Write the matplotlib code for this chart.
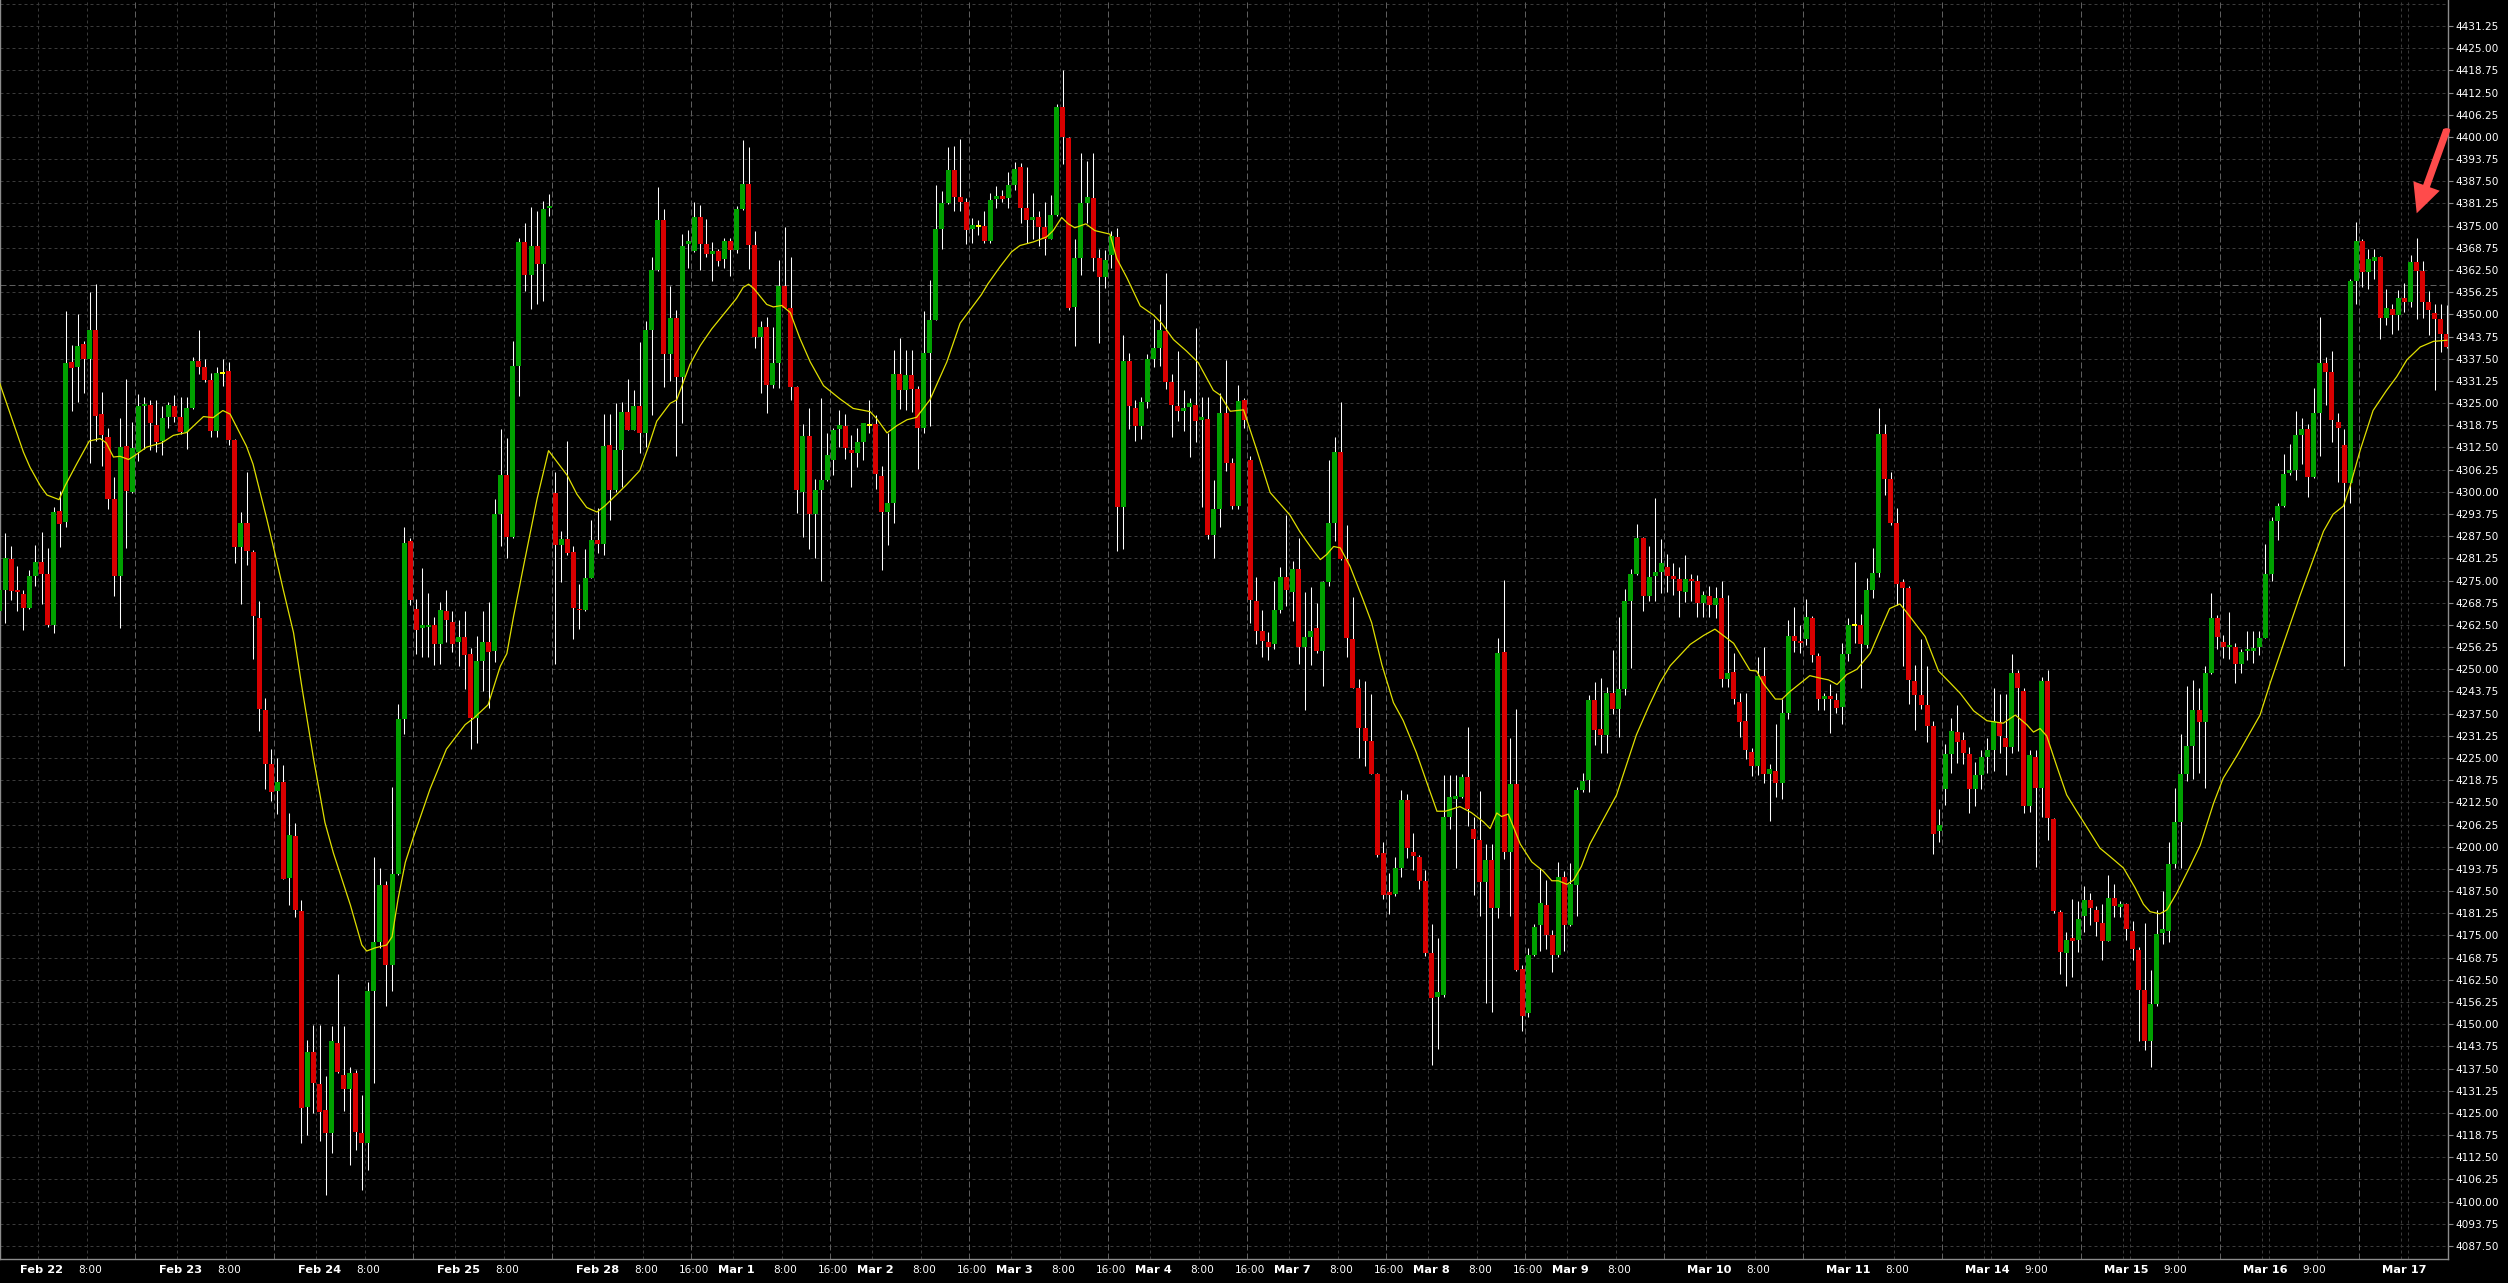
import matplotlib
matplotlib.use("Agg")
import matplotlib.pyplot as plt
import numpy as np
from matplotlib.patches import Polygon, Circle
import matplotlib.transforms as mtransforms

# ---------------- data (hourly OHLC) ----------------
opens = [4266.3,4272.4,4281.0,4272.2,4271.2,4267.2,4276.4,4280.1,4276.9,4262.4,4294.6,4291.4,4336.6,4335.3,4341.7,4337.4,4345.5,4321.9,4315.5,4297.9,4276.2,4312.9,4300.0,
4311.2,4324.1,4324.6,4318.9,4314.3,4321.0,4324.3,4321.2,4316.9,4323.6,4336.9,4335.3,4331.6,4317.1,4333.5,4334.0,4314.6,4284.5,4291.2,4282.9,4264.4,4238.6,4223.2,
4215.8,4218.2,4191.3,4202.9,4181.8,4126.6,4142.1,4133.2,4125.8,4119.2,4144.7,4135.8,4131.8,4136.1,4119.4,4116.6,4159.4,4173.2,4189.2,4166.8,4192.2,4236.0,4286.0,
4266.9,4261.7,4261.9,4262.6,4257.2,4266.4,4263.4,4257.6,4259.1,4254.3,4236.2,4252.2,4257.6,4255.2,4293.7,4304.6,4287.4,4335.5,4370.3,4361.2,4369.4,4364.2,4379.9,
4299.7,4285.0,4286.7,4283.0,4267.1,4266.6,4275.8,4286.4,4285.4,4313.3,4300.4,4311.8,4322.6,4317.5,4324.3,4316.6,4345.6,4362.5,4376.7,4338.9,4348.9,4332.3,4369.8,
4367.8,4377.4,4369.8,4367.1,4367.8,4365.6,4370.7,4368.2,4379.6,4386.8,4369.5,4343.6,4346.3,4330.2,4336.3,4358.1,4351.9,4329.6,4300.0,4315.8,4293.7,4300.4,4303.3,
4309.0,4317.6,4318.5,4311.8,4310.8,4313.9,4318.9,4319.1,4304.4,4294.4,4296.9,4333.2,4328.6,4332.8,4329.0,4317.9,4339.2,4348.5,4374.1,4381.4,4390.8,4383.1,4381.8,
4374.1,4374.9,4374.9,4370.7,4382.4,4383.4,4382.8,4386.5,4391.4,4380.1,4376.6,4377.3,4374.6,4371.3,4378.0,4408.5,4399.7,4352.0,4365.8,4381.3,4382.8,4365.8,4360.6,
4366.7,4371.8,4295.8,4336.8,4323.6,4318.5,4325.4,4337.4,4340.5,4345.2,4330.9,4324.2,4322.7,4324.0,4324.5,4320.1,4320.5,4287.9,4295.2,4322.3,4308.0,4295.9,4325.8,
4308.9,4269.2,4260.9,4257.6,4257.1,4266.8,4275.9,4271.9,4278.3,4256.3,4259.1,4261.7,4255.2,4274.7,4291.2,4311.3,4281.1,4258.5,4244.8,4233.4,4229.8,4220.6,4198.1,
4187.1,4186.7,4193.9,4213.1,4198.4,4197.2,4190.4,4170.0,4157.7,4158.1,4208.5,4213.5,4214.0,4219.5,4205.0,4201.9,4190.0,4196.3,4182.8,4255.0,4198.5,4217.7,4165.4,
4153.1,4169.5,4177.8,4183.7,4175.1,4169.6,4191.6,4177.8,4189.2,4216.0,4218.9,4241.2,4233.1,4231.5,4243.2,4238.7,4244.5,4269.2,4276.8,4287.1,4270.7,4276.4,4277.4,
4278.9,4276.4,4275.3,4271.7,4275.5,4274.9,4268.6,4270.7,4268.0,4270.2,4247.2,4249.1,4240.9,4235.3,4226.8,4222.6,4248.1,4220.6,4221.4,4217.9,4237.8,4259.5,4258.0,
4258.5,4264.5,4253.8,4241.6,4242.4,4241.4,4239.3,4254.4,4262.4,4262.6,4256.7,4272.4,4277.2,4316.4,4303.6,4291.2,4274.6,4273.0,4246.7,4242.7,4239.9,4234.0,4204.5,
4216.2,4226.1,4232.4,4230.1,4226.0,4216.2,4220.1,4225.4,4227.2,4235.2,4230.7,4228.0,4248.9,4243.9,4211.4,4225.4,4216.5,4246.7,4207.8,4181.7,4170.0,4174.3,4173.8,
4180.6,4184.9,4182.2,4178.6,4173.5,4185.5,4183.0,4183.8,4176.3,4171.0,4159.6,4145.3,4155.8,4175.7,4176.3,4195.2,4207.0,4220.6,4228.5,4238.6,4235.2,4248.9,4264.4,
4257.6,4256.2,4256.2,4251.4,4255.1,4255.2,4256.2,4258.9,4276.7,4291.8,4296.0,4305.4,4306.1,4316.1,4317.7,4304.3,4322.1,4336.4,4333.7,4319.8,4313.1,4302.4,4359.3,
4370.8,4362.0,4365.1,4366.1,4349.0,4351.4,4349.8,4354.5,4353.4,4364.8,4362.1,4353.4,4350.3,4348.7,4344.6]

highs = [4274.0,4288.4,4284.6,4279.1,4272.4,4278.1,4285.0,4288.8,4284.1,4295.7,4300.3,4350.9,4341.4,4350.0,4342.6,4356.4,4358.6,4328.1,4318.1,4304.3,4320.7,4331.9,4319.8,
4327.6,4326.7,4325.9,4325.9,4324.1,4325.3,4327.2,4326.7,4326.7,4337.9,4345.7,4337.4,4333.6,4335.3,4337.4,4336.6,4315.0,4294.3,4305.5,4283.6,4269.3,4241.8,4227.5,
4224.9,4222.9,4209.4,4206.8,4184.9,4145.6,4149.9,4149.9,4135.3,4149.4,4164.1,4149.4,4137.8,4137.0,4130.1,4162.0,4197.0,4193.9,4190.4,4216.7,4240.1,4290.2,4287.1,
4269.8,4278.4,4271.5,4264.6,4268.9,4272.4,4266.4,4263.8,4266.4,4256.0,4259.5,4266.4,4268.9,4298.0,4317.7,4315.3,4342.5,4371.4,4375.8,4380.2,4379.1,4382.0,4384.0,
4305.7,4288.9,4314.2,4284.7,4274.1,4284.0,4292.0,4295.3,4321.9,4321.9,4325.0,4325.3,4331.9,4328.6,4342.1,4348.1,4366.1,4385.8,4379.8,4358.1,4351.2,4372.7,4373.8,
4381.8,4380.7,4376.9,4370.5,4368.5,4371.4,4371.4,4380.4,4399.1,4397.1,4373.4,4348.1,4349.2,4346.5,4365.2,4374.7,4366.1,4329.9,4319.0,4323.5,4303.6,4326.5,4316.6,
4318.0,4323.0,4321.9,4316.0,4318.0,4319.5,4325.9,4321.7,4307.3,4316.6,4339.9,4343.2,4339.9,4339.9,4329.9,4350.9,4359.8,4386.4,4384.7,4397.1,4397.5,4399.3,4382.8,
4377.1,4376.5,4379.1,4384.1,4386.3,4385.0,4390.1,4392.9,4392.7,4391.4,4384.1,4379.1,4381.7,4383.7,4409.2,4418.9,4400.0,4371.3,4395.6,4393.3,4395.6,4368.5,4368.2,
4373.6,4374.4,4344.1,4339.2,4326.0,4326.7,4338.8,4348.7,4352.9,4361.6,4333.3,4339.7,4328.6,4326.4,4346.2,4326.7,4326.7,4303.4,4327.8,4337.0,4309.5,4330.0,4326.5,
4310.2,4275.9,4266.8,4260.4,4275.0,4278.7,4293.4,4280.5,4286.9,4271.7,4273.2,4268.6,4275.0,4308.9,4315.4,4325.4,4290.6,4270.5,4247.2,4246.6,4243.0,4220.8,4201.4,
4192.6,4197.2,4216.0,4214.9,4203.9,4197.7,4193.5,4178.3,4174.2,4220.1,4220.1,4220.1,4220.4,4233.8,4208.5,4215.8,4200.7,4200.7,4258.8,4275.1,4230.6,4238.8,4166.7,
4171.5,4178.3,4194.1,4190.6,4176.5,4195.6,4193.1,4195.4,4216.8,4220.8,4242.8,4246.3,4247.5,4245.0,4255.4,4264.8,4272.6,4278.3,4290.9,4287.3,4284.7,4298.2,4286.8,
4282.4,4279.9,4278.7,4282.1,4276.8,4276.5,4272.0,4273.4,4273.3,4274.9,4270.9,4254.5,4243.4,4243.4,4227.7,4253.5,4256.3,4223.3,4234.6,4241.6,4263.8,4267.6,4262.6,
4269.9,4265.1,4254.5,4243.4,4245.9,4243.4,4257.5,4264.5,4280.2,4265.5,4275.8,4284.3,4323.5,4319.2,4305.7,4295.3,4275.5,4273.4,4251.2,4258.5,4251.0,4235.3,4210.5,
4229.0,4236.2,4239.9,4232.3,4228.0,4223.8,4227.2,4230.7,4244.6,4243.1,4243.1,4254.4,4249.7,4244.6,4227.2,4227.2,4247.8,4249.7,4208.0,4182.2,4175.9,4185.3,4184.6,
4189.0,4186.9,4183.3,4183.8,4192.0,4189.6,4184.6,4184.2,4179.0,4171.6,4178.6,4165.3,4182.2,4187.4,4201.2,4216.5,4231.7,4245.4,4247.0,4244.6,4250.9,4271.5,4265.2,
4259.7,4266.0,4257.3,4255.7,4260.8,4260.8,4260.8,4285.4,4292.9,4296.8,4310.7,4313.4,4322.9,4320.9,4319.0,4329.2,4349.3,4337.9,4339.8,4322.1,4317.7,4360.1,4375.9,
4371.2,4368.3,4368.3,4366.4,4357.2,4353.0,4356.9,4358.8,4366.7,4371.5,4365.1,4356.6,4353.0,4353.0,4352.6]

lows = [4263.5,4262.9,4269.5,4266.4,4261.2,4267.0,4273.6,4268.4,4262.0,4260.1,4284.5,4290.2,4322.9,4325.4,4327.9,4308.1,4314.3,4307.4,4295.2,4270.7,4261.5,4284.1,4299.8,
4308.6,4312.1,4311.7,4311.2,4310.3,4318.1,4319.8,4316.4,4312.1,4323.4,4333.1,4331.0,4315.5,4315.5,4329.8,4313.3,4279.8,4268.4,4279.3,4252.9,4232.7,4216.3,4212.9,
4209.1,4190.8,4183.6,4180.1,4116.6,4118.9,4124.9,4117.1,4101.9,4113.7,4136.1,4125.4,4110.2,4114.6,4103.3,4109.0,4133.5,4171.5,4155.1,4159.4,4191.9,4231.8,4268.1,
4254.3,4253.4,4253.4,4251.2,4251.5,4257.7,4255.0,4250.8,4244.3,4227.5,4229.3,4243.9,4239.1,4252.1,4284.7,4281.4,4287.0,4327.0,4356.5,4351.4,4352.9,4353.8,4377.8,
4251.4,4274.7,4282.3,4258.4,4261.4,4266.4,4275.6,4282.7,4282.3,4292.0,4300.0,4301.3,4317.3,4317.3,4311.0,4312.6,4321.7,4362.3,4329.6,4331.2,4310.0,4319.3,4363.2,
4367.5,4362.5,4366.1,4359.4,4363.6,4363.2,4360.9,4367.4,4379.4,4362.9,4340.5,4327.9,4322.2,4329.2,4329.2,4351.7,4325.9,4294.0,4287.4,4284.0,4281.4,4275.0,4303.0,
4304.6,4312.6,4309.3,4301.3,4307.0,4308.9,4316.6,4300.9,4278.0,4285.1,4291.1,4323.3,4323.0,4322.6,4306.5,4316.6,4318.6,4348.3,4368.5,4381.2,4379.1,4379.1,4369.8,
4370.1,4372.5,4370.0,4370.0,4379.9,4381.7,4379.9,4385.0,4375.8,4370.0,4371.3,4369.4,4366.7,4371.1,4377.8,4392.3,4351.1,4341.0,4361.2,4375.8,4362.1,4341.9,4357.5,
4363.0,4283.3,4283.8,4317.6,4314.4,4315.0,4323.6,4335.2,4335.5,4329.1,4315.4,4319.9,4317.2,4309.9,4313.9,4295.6,4286.6,4281.4,4290.1,4305.8,4295.2,4295.2,4318.1,
4263.1,4257.1,4253.4,4252.7,4255.8,4265.9,4267.7,4263.7,4251.6,4238.4,4251.2,4254.5,4245.3,4273.6,4286.0,4280.9,4253.4,4244.6,4225.0,4222.8,4220.4,4197.2,4185.2,
4181.0,4186.2,4191.6,4196.8,4193.5,4188.0,4169.1,4138.5,4143.1,4157.7,4204.9,4193.9,4213.6,4205.8,4186.4,4180.6,4156.0,4153.5,4179.9,4196.6,4180.6,4165.0,4148.1,
4151.9,4169.2,4170.5,4171.1,4164.8,4168.9,4170.5,4177.6,4180.6,4215.5,4215.5,4228.6,4226.5,4226.5,4237.4,4230.9,4242.8,4250.4,4276.6,4266.3,4269.2,4269.2,4271.4,
4271.7,4270.9,4264.8,4268.9,4269.2,4264.8,4264.8,4264.8,4264.5,4244.9,4244.9,4240.3,4230.9,4224.6,4219.9,4220.2,4218.0,4207.2,4213.9,4213.5,4235.9,4254.8,4254.5,
4256.7,4252.0,4238.4,4238.4,4231.9,4237.8,4234.6,4252.3,4257.3,4244.7,4256.0,4270.2,4275.9,4299.0,4290.6,4268.2,4251.0,4240.3,4232.8,4238.7,4229.4,4197.9,4201.3,
4211.8,4220.8,4223.6,4223.3,4209.5,4211.4,4216.2,4220.9,4221.2,4226.5,4220.1,4226.5,4226.9,4209.5,4209.9,4194.4,4208.3,4202.0,4181.4,4164.0,4160.8,4163.2,4170.3,
4175.9,4177.9,4174.8,4168.0,4173.3,4180.1,4180.1,4173.8,4168.0,4145.3,4142.6,4137.9,4155.0,4172.7,4173.2,4194.0,4194.0,4218.5,4219.0,4220.9,4216.5,4248.7,4255.7,
4253.3,4252.9,4246.2,4249.0,4252.5,4251.8,4254.1,4258.7,4275.0,4286.5,4295.8,4304.7,4303.2,4307.9,4298.4,4303.9,4310.2,4324.5,4313.9,4302.8,4251.0,4296.8,4352.9,
4357.7,4357.2,4360.1,4343.0,4347.1,4344.6,4345.5,4350.6,4352.2,4348.7,4349.0,4344.3,4328.8,4339.5,4340.6]

closes = [4272.4,4281.3,4272.0,4271.7,4267.2,4276.4,4280.1,4276.7,4262.4,4294.3,4291.0,4336.2,4334.8,4341.2,4337.4,4345.5,4321.5,4315.9,4297.9,4276.4,4312.6,4300.3,4312.4,
4324.3,4324.8,4319.5,4314.1,4320.7,4324.5,4321.2,4316.9,4323.6,4336.9,4335.3,4331.6,4317.1,4333.5,4333.5,4314.6,4284.5,4291.2,4283.3,4264.9,4238.7,4223.2,4215.5,
4218.1,4191.0,4203.4,4182.3,4126.3,4142.1,4133.5,4125.2,4119.2,4145.2,4136.5,4131.8,4136.1,4119.7,4116.6,4159.4,4173.2,4189.2,4166.8,4192.2,4236.0,4285.7,4269.5,
4261.2,4262.6,4262.6,4257.2,4266.7,4263.8,4257.2,4259.1,4253.9,4236.2,4252.2,4257.6,4254.8,4293.7,4304.6,4287.4,4335.5,4370.3,4361.2,4369.4,4364.2,4379.8,4380.4,
4285.0,4286.7,4282.7,4267.4,4266.6,4275.8,4286.4,4285.4,4312.9,4300.4,4311.8,4322.6,4317.5,4324.3,4316.6,4345.6,4362.5,4376.7,4338.9,4348.9,4332.3,4369.4,4370.6,
4377.4,4369.8,4366.9,4367.8,4365.1,4370.7,4368.2,4379.6,4386.8,4369.5,4343.6,4346.3,4330.2,4336.3,4358.1,4351.9,4329.6,4300.4,4315.8,4293.7,4300.4,4303.3,4310.4,
4317.4,4318.9,4312.4,4311.0,4313.9,4319.3,4318.9,4304.9,4294.4,4296.9,4333.2,4328.8,4332.8,4329.0,4317.9,4339.2,4348.5,4374.1,4381.4,4390.8,4383.1,4381.8,4373.8,
4375.1,4374.9,4370.7,4382.3,4383.4,4382.6,4386.5,4391.1,4380.1,4376.6,4377.3,4374.6,4371.3,4378.0,4408.5,4400.0,4351.7,4365.8,4381.3,4383.0,4365.8,4360.6,4365.4,
4372.2,4295.8,4336.8,4324.2,4318.5,4325.4,4337.4,4340.5,4345.6,4330.9,4324.5,4322.7,4323.6,4325.1,4319.9,4321.0,4287.9,4295.2,4322.1,4308.0,4295.9,4325.6,4320.3,
4269.5,4260.9,4258.0,4256.2,4266.8,4275.9,4272.3,4278.3,4256.3,4259.1,4260.9,4255.2,4274.7,4291.2,4311.1,4281.1,4258.9,4244.8,4233.4,4229.8,4220.6,4197.7,4186.5,
4186.3,4193.9,4213.1,4199.5,4197.3,4190.4,4170.0,4157.4,4159.0,4208.5,4214.0,4214.2,4219.5,4210.5,4202.2,4190.0,4196.3,4182.8,4254.5,4198.5,4217.7,4165.2,4152.2,
4169.5,4177.4,4184.1,4175.1,4169.6,4191.6,4177.8,4189.4,4216.0,4218.5,4241.4,4233.0,4231.5,4243.2,4238.7,4244.5,4269.1,4276.8,4287.1,4270.7,4276.0,4277.4,4279.9,
4276.4,4275.5,4272.0,4275.3,4274.9,4268.6,4270.9,4268.0,4270.1,4247.2,4249.0,4241.6,4235.0,4227.3,4222.6,4248.1,4220.4,4221.8,4217.9,4237.8,4259.5,4257.9,4257.5,
4264.6,4253.9,4241.6,4242.4,4241.6,4239.0,4254.4,4262.6,4262.4,4257.0,4272.4,4277.2,4316.4,4303.6,4291.2,4274.0,4273.0,4247.0,4242.8,4239.9,4234.0,4203.6,4206.0,
4226.1,4232.5,4229.6,4226.5,4216.2,4220.1,4225.4,4227.2,4235.5,4231.2,4228.0,4248.9,4244.6,4211.4,4225.7,4216.5,4246.7,4208.0,4181.9,4170.3,4173.8,4173.5,4179.5,
4184.9,4182.7,4178.7,4173.5,4185.5,4183.3,4183.8,4176.7,4171.1,4159.6,4145.3,4155.8,4175.4,4176.7,4195.2,4207.0,4220.6,4228.5,4238.6,4235.2,4248.9,4264.4,4259.2,
4256.2,4256.8,4251.4,4254.9,4255.7,4256.0,4258.9,4276.7,4291.8,4296.0,4305.0,4306.1,4316.1,4317.7,4304.3,4322.1,4336.4,4333.7,4320.1,4317.9,4302.4,4359.3,4370.8,
4362.0,4365.6,4366.1,4349.0,4351.9,4349.8,4354.5,4353.4,4364.8,4362.1,4353.4,4351.1,4348.7,4344.6,4340.8]

# moving average line, read at sample bars
ma_bar = [0.1,4.0,5.1,6.8,7.9,9.9,10.9,12.8,14.9,16.7,17.7,18.9,20.0,21.4,22.5,24.4,26.9,28.8,31.0,33.8,35.4,37.0,38.2,40.9,42.0,44.3,45.6,47.0,48.7,50.1,
          52.0,53.9,55.3,58.1,60.0,60.8,62.2,64.1,65.0,66.0,67.2,68.5,71.3,74.0,77.1,78.5,80.9,82.9,84.0,85.1,86.8,89.0,90.9,94.0,95.6,97.2,98.9,100.2,
          102.2,103.8,106.0,107.4,108.8,111.0,112.1,114.3,116.0,117.9,119.8,122.0,123.1,124.0,124.9,127.0,128.1,129.5,130.9,132.5,134.2,136.4,139.1,141.3,
          144.1,145.2,146.9,148.5,150.2,151.8,154.0,156.8,159.0,161.2,162.5,163.6,165.6,167.5,168.9,171.1,173.3,174.4,175.8,176.9,178.0,179.8,181.3,183.8,
          184.9,186.6,188.8,191.0,192.4,194.3,196.5,198.4,200.9,202.0,203.7,205.9,208.1,210.3,213.6,215.2,217.5,218.6,219.7,220.8,221.9,223.5,225.7,227.1,
          228.8,230.7,232.3,234.5,236.2,237.9,239.3,241.7,243.6,245.6,246.7,247.8,248.6,249.7,251.7,253.6,255.5,256.9,258.0,259.4,260.5,261.8,263.2,265.4,
          267.6,269.3,270.9,273.0,274.8,276.5,279.8,282.0,283.9,285.3,287.0,289.7,290.8,291.9,293.9,295.0,296.3,298.0,299.6,301.3,302.7,304.1,305.7,307.4,
          309.6,311.0,312.8,314.5,315.6,318.7,320.9,322.8,324.5,326.7,328.9,331.6,333.6,335.5,336.6,337.7,338.8,340.5,342.1,343.8,345.7,347.6,349.3,351.5,
          353.4,354.8,355.9,357.5,358.7,360.3,362.5,364.2,366.4,368.0,370.3,372.4,374.1,375.8,378.0,380.7,382.9,384.6,386.2,387.9,389.0,390.7,392.8,395.0,
          396.7,398.4,400.6,402.8,405.0]
ma_val = [4330.5,4311.2,4306.9,4301.7,4299.1,4297.8,4301.7,4307.8,4314.3,4315.0,4313.8,4309.8,4310.0,4309.1,4310.3,4312.6,4313.8,4315.9,4316.7,4321.2,4320.9,4322.9,4321.9,4312.9,4307.8,4292.2,4282.8,4272.4,4260.3,4244.8,
          4224.9,4206.8,4198.2,4183.6,4172.3,4170.6,4171.5,4172.3,4174.6,4185.3,4195.6,4202.5,4216.3,4227.5,4234.4,4236.2,4240.0,4250.8,4254.4,4264.8,4279.4,4298.0,4311.6,4304.6,4299.3,4295.6,4294.3,4296.0,
          4299.3,4302.0,4306.0,4312.6,4319.9,4324.9,4325.9,4335.9,4341.2,4345.9,4349.9,4354.5,4357.6,4358.5,4357.2,4352.8,4352.1,4352.5,4350.5,4343.2,4336.6,4329.9,4326.2,4323.5,
          4322.6,4320.6,4316.6,4318.6,4320.3,4321.0,4325.9,4336.6,4347.5,4352.5,4355.5,4358.6,4363.4,4367.6,4369.4,4370.4,4371.8,4373.6,4377.3,4375.5,4374.4,4375.5,4373.6,4372.6,
          4365.8,4360.3,4352.4,4349.8,4347.4,4342.9,4339.6,4336.4,4328.6,4327.3,4322.7,4323.1,4311.7,4299.8,4293.4,4288.8,4283.3,4280.9,4282.4,4284.6,4284.2,4279.1,4269.5,4263.1,
          4251.2,4240.6,4235.6,4226.5,4218.2,4210.0,4210.0,4211.3,4209.6,4207.0,4205.1,4209.5,4208.5,4209.2,4200.7,4195.7,4193.1,4190.4,4190.4,4189.4,4190.6,4194.4,4200.7,4207.6,
          4214.5,4223.3,4231.5,4239.7,4246.2,4251.0,4257.0,4259.5,4261.3,4259.5,4257.3,4249.7,4249.5,4246.0,4241.6,4241.6,4243.7,4246.0,4248.2,4247.5,4247.0,4245.7,4248.5,4250.0,
          4254.5,4260.1,4267.1,4268.4,4266.1,4259.2,4249.5,4246.2,4243.2,4238.3,4235.5,4234.8,4237.1,4234.4,4232.3,4233.3,4231.2,4222.5,4214.6,4209.9,4204.8,4199.6,4197.2,4194.0,
          4188.5,4183.8,4181.7,4181.1,4182.2,4186.9,4194.4,4200.4,4212.2,4219.3,4225.7,4232.0,4237.1,4246.2,4257.3,4270.7,4281.0,4288.9,4293.7,4296.0,4301.6,4311.9,4322.9,4328.5,
          4332.4,4337.2,4340.8,4342.4,4342.7]

day_names = ["Feb 22", "Feb 23", "Feb 24", "Feb 25", "Feb 28", "Mar 1", "Mar 2", "Mar 3", "Mar 4",
             "Mar 7", "Mar 8", "Mar 9", "Mar 10", "Mar 11", "Mar 14", "Mar 15", "Mar 16", "Mar 17"]
hour_labels = ["8:00"] * 14 + ["9:00"] * 3          # one per day, days 0..16
close_label_days = [5, 6, 7, 8, 9, 10, 11]          # days that show "16:00" at their start
price_ticks = np.arange(4087.5, 4431.26, 6.25)
ref_level = 4358.25
bars_per_day = 23

# ---------------- figure ----------------
W, H = 2508, 1283
fig = plt.figure(figsize=(W / 100, H / 100), dpi=100, facecolor="black")
ax_left, ax_right, ax_bottom = 0, 2448, 1259.3
ax = fig.add_axes([ax_left / W, 1 - ax_bottom / H, (ax_right - ax_left) / W, ax_bottom / H])
ax.set_facecolor("black")

n = len(opens)
x = np.arange(n)
o = np.array(opens); h = np.array(highs); l = np.array(lows); c = np.array(closes)

ax.set_xlim(0.13, 405.2)
ax.set_ylim(4083.74, 4438.58)

# grid
grid_kw = dict(color="#3a3a3a", lw=0.72, ls=(0, (3, 3)), zorder=0)
for p in list(price_ticks) + [4437.5]:
    ax.axhline(p, **grid_kw)
ndays = len(day_names)
for d in range(ndays):
    base = d * bars_per_day
    offs = [6.5, 14.5] if d < 14 else [6.5, 7.5, 15.5]
    for off in offs:
        ax.axvline(base + off, **grid_kw)
    if d > 0:
        ax.axvline(base - 0.5, color="#5e5e5e", lw=0.72, ls=(0, (6, 3)), zorder=0.5)
ax.axhline(ref_level, color="#5e5e5e", lw=0.72, ls=(0, (6, 3)), zorder=0.5)

# candles
ax.vlines(x, l, h, color="white", lw=0.75, zorder=2)
up = c > o
down = c < o
doji = ~(up | down)
bottom = np.minimum(o, c)
height = np.maximum(np.abs(c - o), 0.45)
ax.bar(x[up], height[up], bottom=bottom[up], width=0.83, color="#00a000", linewidth=0, zorder=3)
ax.bar(x[down], height[down], bottom=bottom[down], width=0.83, color="#d80000", linewidth=0, zorder=3)
ax.bar(x[doji], np.full(doji.sum(), 0.55), bottom=o[doji] - 0.27, width=0.83, color="#ffff00", linewidth=0, zorder=3)

# moving average
ax.plot(ma_bar, ma_val, color="#e0e000", lw=0.9, zorder=4, solid_joinstyle="round")

# axes styling
for s in ["left", "right", "bottom"]:
    ax.spines[s].set_color("#8c8c8c")
    ax.spines[s].set_linewidth(1.0)
ax.spines["top"].set_visible(False)
ax.yaxis.tick_right()
ax.set_yticks(price_ticks)
ax.set_yticklabels([f"{p:.2f}" for p in price_ticks])
ax.tick_params(axis="y", colors="#8c8c8c", labelcolor="white", labelsize=7.6, length=3.5, width=0.8, pad=2)
ax.set_xticks([])

# bottom labels
trans = mtransforms.blended_transform_factory(ax.transData, ax.transAxes)
ylab = -11 / ax_bottom
for d, name in enumerate(day_names):
    base = d * bars_per_day
    ax.text(base + 7, ylab, name, transform=trans, ha="center", va="center",
            color="white", fontsize=8.2, fontweight="bold", clip_on=False)
for d, txt in enumerate(hour_labels):
    base = d * bars_per_day
    ax.text(base + 15, ylab, txt, transform=trans, ha="center", va="center",
            color="white", fontsize=7.6, clip_on=False)
for d in close_label_days:
    ax.text(d * bars_per_day, ylab, "16:00", transform=trans, ha="center", va="center",
            color="white", fontsize=7.6, clip_on=False)

# red annotation arrow (pixel geometry, y downwards)
tail = np.array([2446.7, 130.0]); tip = np.array([2416.7, 213.3])
u = (tip - tail) / np.linalg.norm(tip - tail)
nrm = np.array([u[1], -u[0]])
head_len, head_hw, shaft_hw = 29.0, 14.0, 3.6
base_pt = tip - head_len * u
pts = [tail + shaft_hw * nrm, base_pt + shaft_hw * nrm, base_pt + head_hw * nrm, tip,
       base_pt - head_hw * nrm, base_pt - shaft_hw * nrm, tail - shaft_hw * nrm]
pts_fig = [(px / W, 1 - py / H) for px, py in pts]
arrow_col = "#ff4b4b"
fig.patches.append(Polygon(pts_fig, closed=True, facecolor=arrow_col, edgecolor="none",
                           transform=fig.transFigure, zorder=10))
fig.patches.append(Circle((tail[0] / W, 1 - tail[1] / H), shaft_hw / W, facecolor=arrow_col,
                          edgecolor="none", transform=fig.transFigure, zorder=10))

fig.savefig("out.png", dpi=100, facecolor="black")
